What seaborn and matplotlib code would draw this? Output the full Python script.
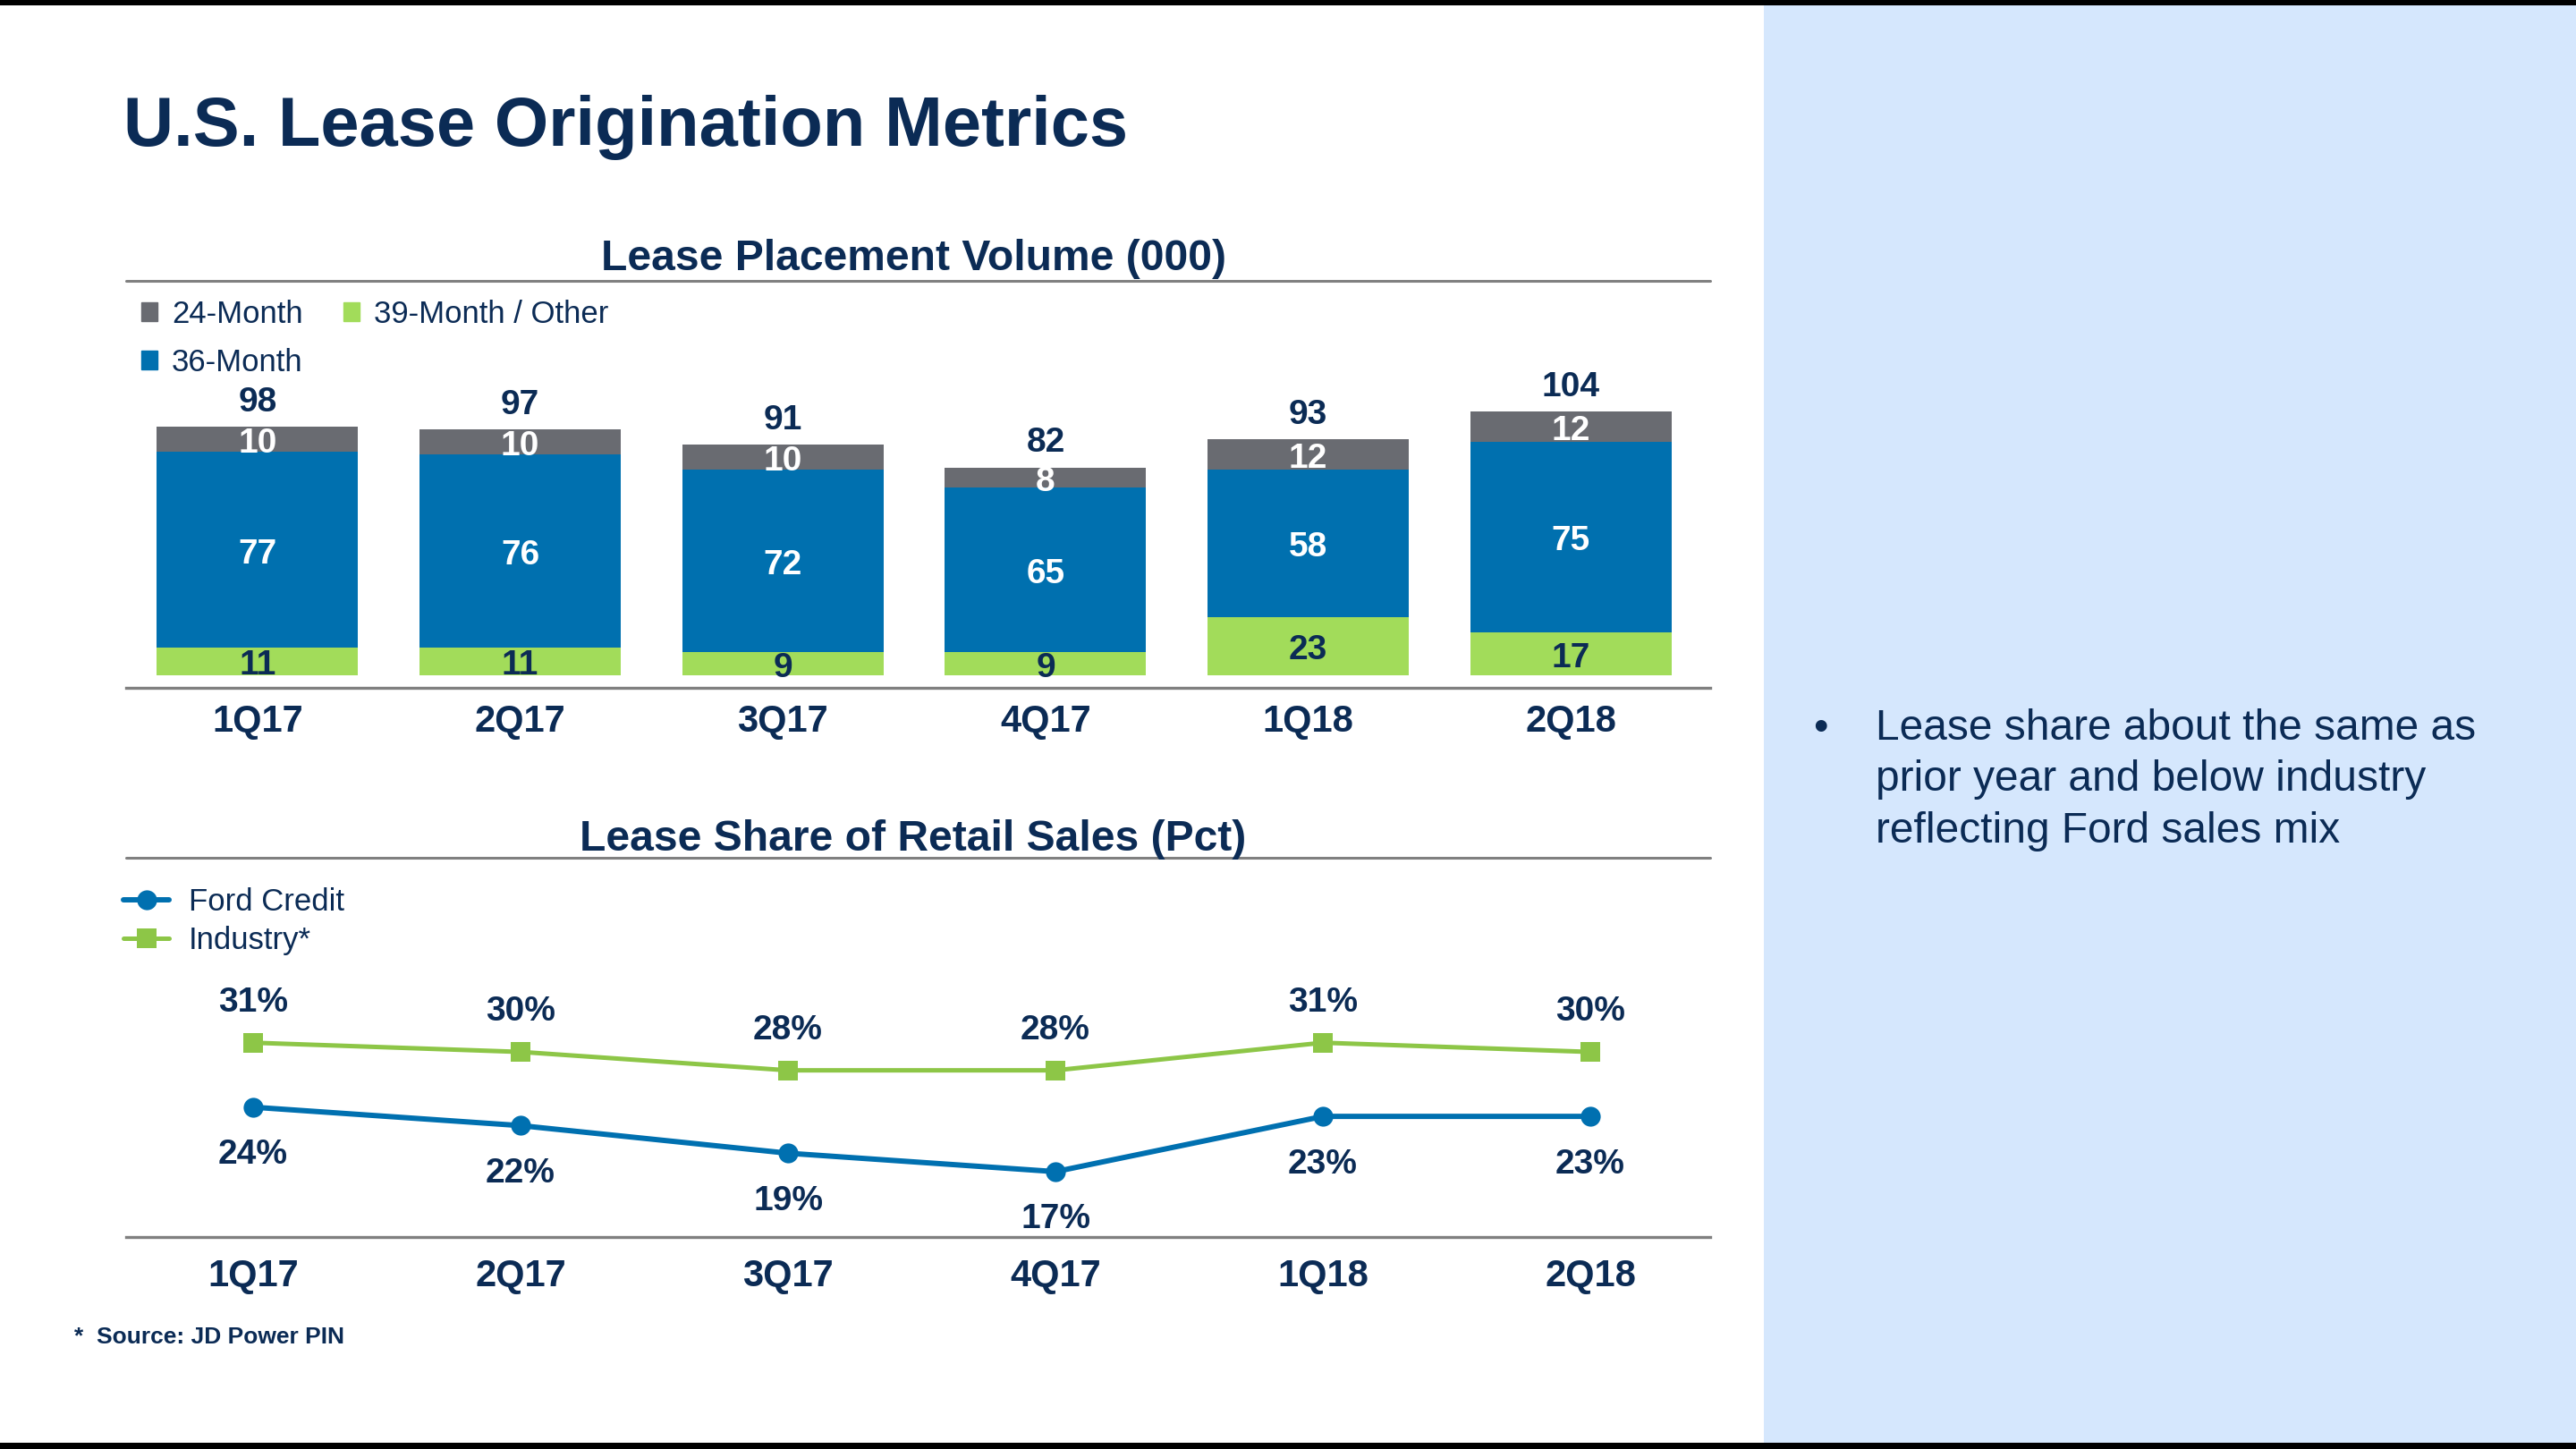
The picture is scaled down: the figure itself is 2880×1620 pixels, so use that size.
import numpy as np
import pandas as pd
import seaborn as sns
import matplotlib.pyplot as plt
from matplotlib.lines import Line2D
from matplotlib.patches import Rectangle, Patch

# data
quarters = ["1Q17", "2Q17", "3Q17", "4Q17", "1Q18", "2Q18"]
month_39 = [11, 11, 9, 9, 23, 17]
month_36 = [77, 76, 72, 65, 58, 75]
month_24 = [10, 10, 10, 8, 12, 12]
ford_share = [24, 22, 19, 17, 23, 23]
industry_share = [31, 30, 28, 28, 31, 30]

NAVY = "#0B2B55"
GRAY = "#696B71"
BLUE = "#0070AF"
GREEN = "#A2DC5A"
LINE_BLUE = "#0070B0"
LINE_GREEN = "#8DC647"
RULE = "#808080"
PANEL = "#D5E7FD"

W, H = 2880, 1620


def fx(px):
    return px / W


def fy(py):
    return 1 - py / H


sns.set_theme(style="white")
plt.rcParams["font.family"] = ["Liberation Sans", "DejaVu Sans"]

fig = plt.figure(figsize=(28.8, 16.2), dpi=100)
fig.patch.set_facecolor("white")

# slide background pieces
fig.add_artist(Rectangle((fx(1972), 0), 1 - fx(1972), 1, transform=fig.transFigure,
                         facecolor=PANEL, edgecolor="none", zorder=0))
fig.add_artist(Rectangle((0, fy(6)), 1, 6 / H, transform=fig.transFigure,
                         facecolor="black", edgecolor="none"))
fig.add_artist(Rectangle((0, 0), 1, 7 / H, transform=fig.transFigure,
                         facecolor="black", edgecolor="none"))

fig.text(fx(138), fy(163), "U.S. Lease Origination Metrics", fontsize=56,
         fontweight="bold", color=NAVY, va="baseline")

# section headers + rules
fig.text(fx(1021), fy(302), "Lease Placement Volume (000)", fontsize=34.6,
         fontweight="bold", color=NAVY, ha="center", va="baseline")
fig.text(fx(1021), fy(951), "Lease Share of Retail Sales (Pct)", fontsize=34.6,
         fontweight="bold", color=NAVY, ha="center", va="baseline")
for yy in (314, 959):
    fig.add_artist(Line2D([fx(141), fx(1912)], [fy(yy), fy(yy)], color=RULE, lw=2.2))

# ---- stacked bars ----
df = pd.DataFrame({"quarter": quarters, "m39": month_39, "m36": month_36, "m24": month_24})
df["mid"] = df["m39"] + df["m36"]
df["top"] = df["mid"] + df["m24"]

ax1 = fig.add_axes([fx(141), fy(769), (1912 - 141) / W, (769 - 330) / H])
ax1.set_facecolor("none")
for col, c in [("top", GRAY), ("mid", BLUE), ("m39", GREEN)]:
    sns.barplot(data=df, x="quarter", y=col, color=c, saturation=1, width=0.766,
                errorbar=None, linewidth=0, ax=ax1)

lab = dict(fontsize=28, fontweight="bold", ha="center", va="center",
           textcoords="offset points")
for i, row in df.iterrows():
    ax1.annotate(str(row["m39"]), (i, row["m39"] / 2), xytext=(0, -3.5), color=NAVY, **lab)
    ax1.annotate(str(row["m36"]), (i, row["m39"] + row["m36"] / 2), xytext=(0, -3.5),
                 color="white", **lab)
    ax1.annotate(str(row["m24"]), (i, row["mid"] + row["m24"] / 2), xytext=(0, -3.5),
                 color="white", **lab)
    ax1.annotate(str(row["top"]), (i, row["top"]), xytext=(0, 19.5), color=NAVY, **lab)

ax1.set_xlim(-0.5, 5.53)
ax1.set_ylim(-4.94, 149.9)
ax1.set_yticks([])
ax1.set_xlabel("")
ax1.set_ylabel("")
ax1.tick_params(axis="x", length=0, pad=13, labelsize=30, labelcolor=NAVY)
for t in ax1.get_xticklabels():
    t.set_fontweight("bold")
for s in ("left", "right", "top"):
    ax1.spines[s].set_visible(False)
ax1.spines["bottom"].set_color(RULE)
ax1.spines["bottom"].set_linewidth(2.4)

bar_handles = [Patch(color=GRAY, label="24-Month"),
               Patch(color=BLUE, label="36-Month"),
               Patch(color=GREEN, label="39-Month / Other")]
fig.legend(handles=bar_handles, loc="upper left", bbox_to_anchor=(fx(158), fy(335)),
           ncol=2, frameon=False, fontsize=25, labelcolor=NAVY,
           handlelength=0.53, handleheight=0.53, handletextpad=0.45,
           columnspacing=1.3, labelspacing=0.6, borderpad=0, borderaxespad=0)

# ---- lines ----
xpos = np.arange(len(quarters))
ax2 = fig.add_axes([fx(141), fy(1383), (1912 - 141) / W, (1383 - 965) / H])
ax2.set_facecolor("none")
sns.lineplot(x=xpos, y=ford_share, color=LINE_BLUE, lw=4.3, marker="o", markersize=16,
             markeredgewidth=0, label="Ford Credit", ax=ax2)
sns.lineplot(x=xpos, y=industry_share, color=LINE_GREEN, lw=3.6, marker="s", markersize=16,
             markeredgewidth=0, label="Industry*", ax=ax2)

pl = dict(fontsize=28, fontweight="bold", ha="center", va="center", color=NAVY,
          textcoords="offset points")
for i in range(len(quarters)):
    ax2.annotate(f"{industry_share[i]}%", (xpos[i], industry_share[i]), xytext=(0, 32.5), **pl)
    ax2.annotate(f"{ford_share[i]}%", (xpos[i], ford_share[i]), xytext=(0, -38.5), **pl)

ax2.set_xlim(-0.475, 5.448)
ax2.set_ylim(9.9, 50.5)
ax2.set_yticks([])
ax2.set_xticks(xpos)
ax2.set_xticklabels(quarters)
ax2.tick_params(axis="x", length=0, pad=17, labelsize=30, labelcolor=NAVY)
for t in ax2.get_xticklabels():
    t.set_fontweight("bold")
for s in ("left", "right", "top"):
    ax2.spines[s].set_visible(False)
ax2.spines["bottom"].set_color(RULE)
ax2.spines["bottom"].set_linewidth(2.4)

h, l = ax2.get_legend_handles_labels()
ax2.legend(h, l, loc="upper left", bbox_to_anchor=(fx(138), fy(992)),
           bbox_transform=fig.transFigure, frameon=False, fontsize=25, labelcolor=NAVY,
           handlelength=1.47, handletextpad=0.63, labelspacing=0.3,
           borderpad=0, borderaxespad=0)

# footnote
fig.text(fx(83), fy(1502), "*  Source: JD Power PIN", fontsize=19, fontweight="bold",
         color=NAVY, va="baseline")

# side note (multi-line baseline anchors the last line)
fig.text(fx(2027), fy(827), "\u2022", fontsize=34, color=NAVY, va="baseline")
fig.text(fx(2097), fy(942),
         "Lease share about the same as\nprior year and below industry\nreflecting Ford sales mix",
         fontsize=34.5, color=NAVY, va="baseline", linespacing=1.36)

fig.savefig("out.png", dpi=100)
